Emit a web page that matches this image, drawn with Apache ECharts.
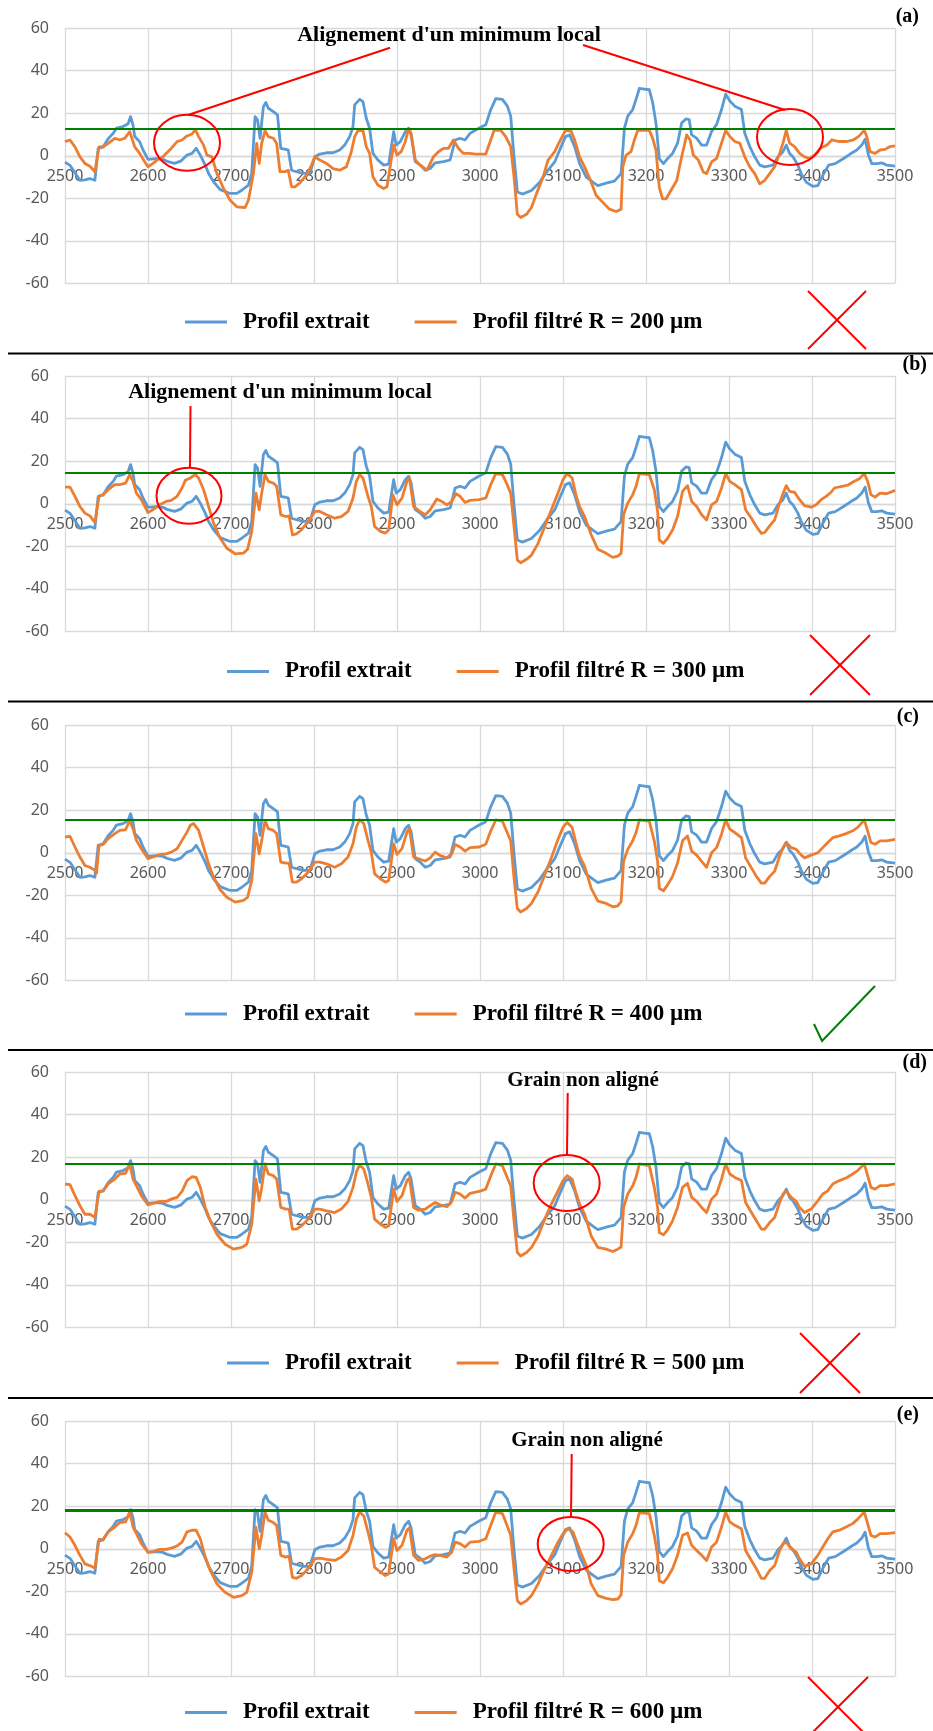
<!DOCTYPE html>
<html>
<head>
<meta charset="utf-8">
<script src="https://cdn.jsdelivr.net/npm/echarts@6/dist/echarts.min.js"></script>
<style>
html,body{margin:0;padding:0;background:#fff;}
#chart{width:933px;height:1731px;}
</style>
</head>
<body>
<div id="chart"></div>
<script>
// ---------- DATA ----------
const xTicks = [2500, 3500, 100];       // min, max, interval (µm)
const yTicks = [-60, 60, 20];
const panelLetters = ['(a)', '(b)', '(c)', '(d)', '(e)'];
const radii = [200, 300, 400, 500, 600];           // µm
const thresholds = [12.5, 14.5, 15.7, 16.8, 18];   // green line levels
const blueName = 'Profil extrait';

const profileBlue = [[2500,-3],[2506,-4.5],[2512,-8],[2518,-11.5],[2524,-11.3],[2530,-10.7],[2536,-11.5],[2538,-11],[2540,3.5],[2546,4.2],[2552,8],[2558,10.5],[2562,13],[2570,13.7],[2576,15],[2579,18.4],[2582,14.4],[2584,9],[2590,6.6],[2594,2.7],[2600,-1.7],[2610,-1.3],[2618,-1.7],[2624,-2.8],[2632,-3.6],[2640,-2.4],[2647,0.3],[2653,1.1],[2658,3.5],[2663,0.3],[2669,-4.4],[2673,-8.3],[2679,-12.2],[2687,-15.9],[2699,-17.7],[2707,-17.7],[2713,-16.2],[2721,-13.8],[2725,-8.3],[2729,18.4],[2732,16.8],[2735,8.2],[2739,23],[2742,25],[2745,22.3],[2751,20.7],[2756,19.2],[2760,3.5],[2766,3],[2769,2.7],[2773,-6.8],[2779,-7.5],[2787,-8.3],[2795,-8.3],[2801,-0.5],[2807,0.8],[2815,1.4],[2823,1.4],[2831,2.7],[2837,5],[2843,9],[2847,13.7],[2849,23.9],[2855,26.5],[2859,25.4],[2863,17.6],[2867,12.9],[2871,1.1],[2877,-2],[2884,-4.4],[2890,-3.9],[2896,11.3],[2899,5],[2904,6.6],[2910,11.3],[2914,12.9],[2917,9.7],[2922,-2.8],[2928,-4.4],[2934,-6.8],[2940,-6],[2946,-3.3],[2956,-2.8],[2964,-2],[2970,7.4],[2976,8.2],[2982,7.4],[2988,10.5],[2999,13],[3007,14.6],[3013,21.7],[3019,26.8],[3027,26.5],[3033,23.3],[3037,18.6],[3041,-0.5],[3045,-17],[3051,-18],[3062,-16.3],[3072,-12.4],[3082,-6.8],[3090,-2.9],[3096,2.7],[3103,9],[3108,9.8],[3114,4.3],[3120,-3.7],[3128,-10],[3136,-12.4],[3142,-14],[3152,-12.9],[3162,-11.9],[3170,-8.4],[3174,13],[3178,18.6],[3184,21.7],[3188,26.5],[3192,31.6],[3198,31.3],[3204,31],[3208,25],[3212,15.4],[3216,-1.3],[3221,-3.7],[3226,-1.3],[3232,1.1],[3238,5.9],[3243,15.4],[3248,17.3],[3252,17],[3255,9.8],[3261,8.3],[3267,5],[3273,5],[3279,11.4],[3285,14.6],[3291,21.7],[3296,28.9],[3301,25.7],[3307,23.3],[3315,21.7],[3319,10.6],[3325,4.3],[3331,-0.5],[3337,-4.4],[3343,-5.2],[3353,-4.4],[3359,-0.5],[3365,1.9],[3369,5],[3373,1.1],[3377,-0.5],[3383,-4.4],[3387,-8.4],[3393,-12.4],[3401,-14.4],[3407,-14],[3413,-9.2],[3420,-4.4],[3428,-3.7],[3438,-1.3],[3446,0.8],[3454,2.7],[3460,5],[3464,7.8],[3468,0.3],[3472,-3.7],[3478,-3.7],[3484,-3.3],[3490,-4.4],[3500,-4.9]];

const filtered200 = [[2500,6.6],[2506,7.4],[2512,4.2],[2518,-0.5],[2524,-3.6],[2530,-4.9],[2536,-7.5],[2538,-8.3],[2541,4.2],[2546,4.2],[2552,5.8],[2560,8.2],[2566,7.4],[2572,8.2],[2578,11.3],[2580,11.3],[2584,4.2],[2590,1.1],[2596,-2.8],[2600,-5.2],[2606,-3.6],[2612,-1.7],[2618,-0.5],[2627,3],[2635,6.6],[2641,7.4],[2647,9.3],[2653,10.2],[2657,12.3],[2661,9],[2667,5],[2671,0.3],[2677,-0.5],[2683,-8.3],[2691,-15.4],[2699,-20.9],[2707,-24],[2717,-24.3],[2721,-20.9],[2727,-8.3],[2731,5.8],[2734,-3.6],[2737,5.8],[2741,11.8],[2745,9],[2751,8.2],[2755,5.8],[2759,-7.5],[2765,-7.5],[2769,-6.8],[2773,-14.6],[2777,-14.6],[2783,-12.7],[2791,-9.1],[2797,-4.4],[2801,-0.5],[2807,-2],[2815,-3.6],[2823,-6],[2831,-6.8],[2839,-5.2],[2845,1.9],[2849,9],[2853,11.8],[2859,11.8],[2863,4.2],[2867,1.1],[2871,-9.9],[2877,-13.8],[2884,-15.4],[2888,-14.6],[2893,-2],[2896,5],[2900,0.3],[2905,1.9],[2910,6.6],[2914,12.9],[2917,10.5],[2922,-2],[2928,-4.4],[2936,-6.8],[2944,-0.5],[2950,1.9],[2956,3.5],[2962,3.5],[2968,7.4],[2974,3.5],[2980,1.1],[2987,1.1],[2995,0.8],[3007,0.8],[3013,7.5],[3017,11.9],[3025,11.9],[3031,9],[3037,4.3],[3041,-10],[3045,-27.5],[3049,-29],[3056,-27.5],[3062,-24.3],[3068,-17.9],[3076,-10],[3082,-2],[3090,1.9],[3096,6.7],[3103,11.9],[3110,11.4],[3114,7.5],[3120,-0.5],[3126,-5.2],[3134,-12.4],[3140,-18.7],[3148,-21.9],[3156,-25.1],[3164,-26.2],[3170,-25.1],[3172,-5.2],[3176,0.3],[3182,1.9],[3186,7.5],[3190,11.9],[3204,11.9],[3208,8.3],[3212,2.7],[3216,-14.8],[3220,-20.3],[3224,-20.3],[3230,-16.3],[3237,-11.6],[3243,-0.5],[3249,9.8],[3253,7.5],[3257,0.3],[3263,-2],[3269,-7.6],[3273,-8.4],[3279,-2.9],[3285,-1.3],[3291,5.9],[3296,11.9],[3301,9],[3307,6.7],[3313,5.9],[3319,-0.5],[3325,-5.2],[3331,-8.4],[3337,-13.2],[3343,-11.6],[3349,-8.4],[3355,-5.2],[3361,1.1],[3365,5.9],[3369,11.9],[3373,5.9],[3379,4.3],[3385,1.1],[3391,-0.5],[3397,-1.3],[3403,0.3],[3410,3.5],[3418,5],[3424,7.5],[3432,6.7],[3442,6.7],[3450,7.5],[3456,9],[3463,11.9],[3466,9],[3470,1.9],[3476,1.1],[3482,2.7],[3488,3],[3494,4.3],[3500,4.6]];

const filtered300 = [[2500,7.8],[2506,7.8],[2512,3.5],[2518,-1.3],[2524,-4.4],[2530,-5.7],[2536,-8.8],[2538,-9.1],[2541,3.5],[2546,4.2],[2552,6.6],[2560,9],[2566,9],[2573,9.7],[2578,13.7],[2582,10.5],[2586,5],[2592,1.9],[2600,-4.1],[2606,-2.8],[2614,-0.5],[2622,1.1],[2628,1.6],[2635,3.5],[2641,7.4],[2645,11],[2651,12.1],[2657,13.7],[2661,12.1],[2667,6.6],[2673,-1.3],[2679,-9.1],[2687,-16.2],[2695,-20.9],[2705,-23.5],[2715,-23.2],[2720,-21.4],[2725,-13],[2730,5],[2734,-2.8],[2737,5],[2741,13.7],[2745,10.5],[2751,9.7],[2755,8.2],[2760,-5.2],[2766,-6],[2770,-5.7],[2774,-14.6],[2779,-14.1],[2785,-12.2],[2793,-8.3],[2801,-3.6],[2807,-3.6],[2815,-5.2],[2825,-6.8],[2833,-6],[2841,-3.6],[2847,2.7],[2851,10.5],[2855,13.7],[2859,12.1],[2865,3.5],[2869,-1.3],[2873,-10.7],[2880,-13],[2886,-13.8],[2890,-12.2],[2895,4.2],[2900,-0.5],[2906,2.7],[2912,10.5],[2915,12.1],[2920,-1.3],[2926,-3.1],[2934,-5.2],[2940,-2.8],[2948,2.2],[2954,1.1],[2960,-0.5],[2966,1.1],[2971,4.7],[2976,3.5],[2982,0.6],[2988,1.6],[2999,1.9],[3007,2.7],[3013,9],[3019,14.2],[3027,13.7],[3031,10.5],[3037,5],[3041,-10.7],[3045,-26.5],[3049,-27.7],[3056,-26.1],[3062,-24.1],[3070,-18.6],[3078,-10.7],[3086,-2.8],[3094,5],[3100,11.3],[3105,14.2],[3111,12.1],[3116,3.5],[3120,-1.3],[3126,-6],[3134,-14.6],[3142,-21.4],[3152,-23.3],[3160,-25.2],[3166,-24.6],[3170,-23.3],[3173,-5.2],[3178,0.3],[3184,4.3],[3188,8.2],[3192,14.2],[3204,13.7],[3210,6.6],[3214,-3.6],[3216,-17],[3221,-18.6],[3226,-16.2],[3232,-12.3],[3238,-6],[3244,5.8],[3250,8.5],[3255,1.1],[3261,-1.3],[3267,-5.2],[3273,-7.6],[3279,-0.5],[3285,1.1],[3291,7.4],[3296,14.2],[3301,10.5],[3307,9],[3315,6.6],[3320,-2.8],[3327,-6.8],[3333,-10.7],[3339,-13.9],[3343,-13.5],[3349,-10.4],[3355,-7.6],[3361,0.3],[3365,4.7],[3369,8.5],[3373,5.8],[3379,5.4],[3385,1.9],[3391,-0.9],[3399,-1.6],[3405,-0.5],[3411,1.9],[3417,3.5],[3423,5.4],[3427,7.4],[3435,8.1],[3443,8.7],[3451,10.6],[3457,11.7],[3463,14.2],[3467,10.6],[3471,4.3],[3476,3.1],[3482,5],[3490,4.7],[3500,6.3]];

const filtered400 = [[2500,7.4],[2506,7.7],[2512,2.7],[2518,-2],[2524,-6],[2530,-6.8],[2536,-8.3],[2538,-9.6],[2541,3.5],[2546,3.9],[2552,6.6],[2560,9],[2566,10.5],[2573,10.8],[2578,15.2],[2582,11.3],[2586,5.8],[2592,1.9],[2600,-2.8],[2606,-2],[2614,-0.8],[2622,-0.5],[2628,0.3],[2635,1.9],[2641,5.8],[2647,9.7],[2651,12.9],[2655,13.7],[2661,10.5],[2667,2.7],[2673,-5.2],[2679,-11.5],[2687,-17.4],[2695,-20.9],[2705,-23.2],[2715,-22.4],[2720,-20.9],[2725,-13],[2730,9],[2734,-0.5],[2737,5.8],[2741,15.2],[2745,11.3],[2751,10.5],[2755,9],[2760,-4.4],[2766,-4.9],[2770,-4.9],[2774,-13.8],[2779,-13.8],[2785,-12.2],[2793,-9.1],[2801,-4.4],[2807,-4.4],[2815,-5.2],[2825,-6.8],[2833,-5.2],[2841,-2],[2847,4.2],[2851,12.1],[2855,15.5],[2860,13.7],[2865,5.8],[2869,0.3],[2873,-9.9],[2880,-12.2],[2886,-13.8],[2890,-13],[2896,4.2],[2900,-0.8],[2906,1.9],[2912,9.7],[2915,11.3],[2920,-2],[2926,-2.8],[2934,-3.9],[2940,-2.4],[2946,0.3],[2952,-1.3],[2960,-2.4],[2966,-0.5],[2970,3.9],[2976,2.7],[2982,0.8],[2988,2.4],[2999,2.7],[3007,4],[3013,10.3],[3019,15.4],[3027,14.8],[3031,11.1],[3037,5.6],[3041,-11.9],[3045,-26.2],[3049,-27.8],[3056,-26.2],[3062,-23.8],[3070,-18.3],[3078,-10.3],[3086,-2.4],[3094,6.3],[3100,11.9],[3105,14.3],[3111,11.9],[3116,4],[3120,-1.6],[3126,-6.3],[3134,-16.7],[3142,-22.7],[3152,-23.8],[3160,-25.4],[3166,-24.9],[3170,-23],[3173,-4],[3178,1.6],[3184,5.6],[3188,9.5],[3192,15.4],[3204,14.8],[3210,5.6],[3214,-4],[3216,-16.7],[3221,-17.9],[3226,-15.1],[3232,-11.1],[3238,-4.8],[3244,5.6],[3250,7.9],[3255,0.8],[3261,-1.1],[3267,-4],[3273,-6.8],[3279,0],[3285,2.4],[3291,8.7],[3296,15.4],[3301,11.1],[3307,9.5],[3315,7.1],[3320,-2.4],[3327,-7.1],[3333,-11.1],[3339,-14.3],[3343,-14.3],[3349,-11.1],[3355,-8.7],[3361,-1.6],[3365,2.4],[3369,4.8],[3375,2.4],[3381,1.6],[3387,-1.1],[3391,-2.4],[3399,-1.1],[3407,0],[3413,2.4],[3419,4.8],[3425,7.1],[3433,7.9],[3441,9],[3449,10.3],[3455,11.9],[3463,15.4],[3467,10.3],[3471,4.8],[3476,4],[3482,5.6],[3490,5.6],[3500,6.3]];

const filtered500 = [[2500,7.4],[2506,7.1],[2512,1.9],[2518,-2.8],[2524,-6.8],[2530,-6.8],[2536,-8.3],[2538,-9.1],[2541,3.9],[2546,4.2],[2552,7.4],[2560,9.7],[2566,12.1],[2573,12.4],[2578,16.8],[2582,9.7],[2586,6.6],[2592,1.9],[2600,-2.4],[2606,-1.7],[2614,-0.8],[2622,-0.8],[2628,0.3],[2635,1.1],[2641,3.9],[2647,9],[2653,10.8],[2658,10.5],[2663,5.8],[2669,-3.6],[2675,-9.9],[2683,-16.2],[2693,-20.9],[2703,-23.2],[2713,-22.4],[2719,-20.9],[2725,-11.5],[2730,9.7],[2734,-0.5],[2737,5.8],[2741,16.8],[2745,12.1],[2751,11.3],[2755,9.7],[2760,-3.6],[2766,-4.4],[2770,-4.4],[2774,-13.8],[2779,-13.8],[2785,-12.2],[2793,-9.1],[2801,-4.4],[2807,-4.4],[2815,-5.2],[2825,-6],[2833,-4.4],[2841,-0.8],[2847,5.8],[2851,12.9],[2855,16.5],[2860,14.4],[2865,7.4],[2869,1.1],[2873,-9.1],[2880,-11.5],[2886,-13],[2890,-12.2],[2896,5],[2900,-0.8],[2906,1.9],[2912,9],[2915,10.2],[2920,-3.6],[2926,-4.9],[2934,-4.4],[2940,-2.8],[2946,-1.3],[2952,-2.4],[2960,-3.3],[2966,-0.8],[2970,3.5],[2976,2.7],[2982,0.8],[2988,3],[2999,3.9],[3007,5],[3013,11.3],[3019,16.8],[3027,16],[3031,12.1],[3037,6.6],[3041,-9.9],[3045,-24.8],[3049,-26.4],[3056,-24.8],[3062,-22.4],[3070,-17],[3078,-9.1],[3086,-2],[3094,4.2],[3100,9],[3105,11.3],[3111,9.7],[3116,2.7],[3120,-2],[3126,-6.8],[3134,-17],[3142,-22.4],[3152,-23.2],[3160,-24.3],[3166,-23.2],[3170,-22.2],[3173,-3.6],[3178,2.7],[3184,6.6],[3188,10.5],[3192,16.8],[3204,16],[3210,5.8],[3214,-3.6],[3216,-15.4],[3221,-16.5],[3226,-14.1],[3232,-9.9],[3238,-3.6],[3244,5.8],[3250,7.7],[3255,1.1],[3261,-0.8],[3267,-3.6],[3273,-6],[3279,0.3],[3285,2.7],[3291,9.7],[3296,16.8],[3301,12.1],[3307,10.5],[3315,9],[3320,-1.3],[3327,-6],[3333,-9.9],[3339,-13.8],[3343,-13.8],[3349,-10.7],[3355,-8.3],[3361,-1.3],[3365,2.7],[3369,4.2],[3375,1.1],[3381,-0.8],[3385,-3.6],[3391,-6],[3399,-4.4],[3407,-0.5],[3413,2.7],[3419,4.2],[3425,7.4],[3433,9],[3441,10.2],[3449,12.1],[3455,13.7],[3463,16.8],[3467,11.3],[3471,5.8],[3476,5],[3482,6.6],[3490,6.6],[3500,7.4]];

const filtered600 = [[2500,7.5],[2506,5.5],[2512,1.6],[2518,-3.1],[2524,-7.1],[2530,-7.9],[2536,-9.1],[2538,-9.4],[2541,4.4],[2546,4.4],[2552,7.9],[2560,10.2],[2566,12.3],[2573,12.6],[2578,17.3],[2582,10.2],[2586,7.1],[2592,2.4],[2600,-1.6],[2606,-1.3],[2614,-0.3],[2622,-0.3],[2628,0.3],[2635,1.3],[2641,3.1],[2647,7.9],[2653,8.7],[2658,8.7],[2663,4.7],[2669,-3.9],[2675,-10.2],[2683,-16.5],[2693,-20.5],[2703,-22.8],[2713,-22],[2719,-20.5],[2725,-11],[2730,10.2],[2734,0],[2737,6.3],[2741,17.3],[2745,13.4],[2751,12.3],[2755,11],[2760,-3.1],[2766,-3.9],[2770,-3.5],[2774,-13.4],[2779,-13.9],[2785,-12.6],[2793,-9.4],[2801,-4.7],[2807,-4.4],[2815,-5],[2825,-5.5],[2833,-3.9],[2841,-0.8],[2847,6.3],[2851,13.9],[2855,17.3],[2860,15.4],[2865,7.9],[2869,1.6],[2873,-8.7],[2880,-11],[2886,-12.6],[2890,-11.8],[2896,4.7],[2900,-0.8],[2906,1.6],[2912,8.7],[2915,9.8],[2920,-3.1],[2926,-5.5],[2934,-4.7],[2940,-3.5],[2946,-2.8],[2952,-3.1],[2960,-3.9],[2966,-1.6],[2970,3.1],[2976,2.4],[2982,0.8],[2988,3.1],[2999,3.5],[3007,4.7],[3013,11],[3019,17.3],[3027,16.5],[3031,12.6],[3037,6.3],[3041,-9.4],[3045,-24.4],[3049,-26],[3056,-24.4],[3062,-22],[3070,-16.5],[3078,-9.4],[3086,-3.1],[3094,3.1],[3100,7.1],[3106,9.4],[3112,7.9],[3118,1.6],[3122,-2.4],[3128,-7.9],[3134,-16.5],[3142,-22],[3152,-23.3],[3160,-23.9],[3166,-23.6],[3170,-21.7],[3173,-3.1],[3178,3.1],[3184,7.1],[3188,11],[3192,17],[3204,16.5],[3210,6.3],[3214,-3.1],[3216,-15],[3221,-16],[3226,-13.4],[3232,-9.4],[3238,-3.1],[3244,6.3],[3250,7.4],[3255,1.6],[3261,-0.8],[3267,-3.1],[3273,-5.5],[3279,0.8],[3285,3.1],[3291,10.2],[3296,17.3],[3301,12.6],[3307,11],[3315,9.4],[3320,-0.8],[3327,-5.5],[3333,-9.4],[3339,-13.9],[3343,-13.9],[3349,-10.2],[3355,-7.9],[3361,-0.8],[3365,2.4],[3369,3.1],[3375,0],[3381,-1.6],[3385,-4.7],[3391,-8.2],[3399,-7.1],[3407,-3.1],[3413,0.8],[3419,4.7],[3425,7.9],[3433,8.7],[3441,10.2],[3449,11.8],[3455,13.9],[3463,17.3],[3467,11.8],[3471,6.3],[3476,5.5],[3482,7.1],[3490,7.1],[3500,7.6]];

const filteredProfiles = [filtered200, filtered300, filtered400, filtered500, filtered600];

// ---------- LAYOUT / STYLE ----------
const BLUE = '#5b9bd5', ORANGE = '#ed7d31', GREEN = '#008000', RED = '#ff0000';
const gridTops = [28, 376, 725, 1072, 1421];
const gridH = 255.5, gridLeft = 65, gridW = 830;
const legendCenters = [319, 668.5, 1011, 1360, 1709.5];
const legendLefts = [180, 222, 180, 222, 180];
const greenW = [2, 2, 2, 2, 3];
const serif = '"Liberation Serif", "DejaVu Serif", serif';

const grids = [], xAxes = [], yAxes = [], series = [], legends = [];
const axisLabelStyle = {color: '#595959', fontSize: 16, fontFamily: '"Noto Sans", sans-serif'};
const gridLineStyle = {color: '#d9d9d9', width: 1.3};
// x axis sits on the y = 0 line (Excel style)
const zeroOffset = -gridH * (0 - yTicks[0]) / (yTicks[1] - yTicks[0]);

for (let i = 0; i < 5; i++) {
  grids.push({left: gridLeft, top: gridTops[i], width: gridW, height: gridH});
  xAxes.push({
    type: 'value', gridIndex: i, min: xTicks[0], max: xTicks[1], interval: xTicks[2],
    position: 'bottom', offset: zeroOffset,
    axisLine: {show: true, onZero: false, lineStyle: gridLineStyle},
    axisTick: {show: false},
    axisLabel: Object.assign({margin: 13, formatter: v => String(v)}, axisLabelStyle),
    splitLine: {show: true, lineStyle: gridLineStyle}
  });
  yAxes.push({
    type: 'value', gridIndex: i, min: yTicks[0], max: yTicks[1], interval: yTicks[2],
    axisLine: {show: false}, axisTick: {show: false},
    axisLabel: Object.assign({margin: 16, formatter: v => String(v)}, axisLabelStyle),
    splitLine: {show: true, lineStyle: gridLineStyle}
  });
  const orangeName = 'Profil filtré R = ' + radii[i] + ' µm';
  series.push({
    name: blueName, type: 'line', xAxisIndex: i, yAxisIndex: i,
    data: profileBlue, showSymbol: false, symbol: 'none',
    lineStyle: {color: BLUE, width: 2.8, join: 'round'}, itemStyle: {color: BLUE},
    z: 2, animation: false
  });
  series.push({
    name: orangeName, type: 'line', xAxisIndex: i, yAxisIndex: i,
    data: filteredProfiles[i], showSymbol: false, symbol: 'none',
    lineStyle: {color: ORANGE, width: 2.8, join: 'round'}, itemStyle: {color: ORANGE},
    z: 3, animation: false,
    markLine: {
      silent: true, symbol: ['none', 'none'], label: {show: false},
      lineStyle: {color: GREEN, width: greenW[i], type: 'solid'},
      data: [{yAxis: thresholds[i]}], z: 5, animation: false
    }
  });
  legends.push({
    data: [blueName, orangeName],
    left: legendLefts[i], top: legendCenters[i] - 13.5,
    icon: 'rect', itemWidth: 42, itemHeight: 3, itemGap: 45,
    textStyle: {fontFamily: serif, fontWeight: 'bold', fontSize: 23, color: '#000', padding: [0, 0, 0, 11]},
    selectedMode: false
  });
}

// ---------- ANNOTATIONS (overlay drawings) ----------
const g = [];
function line(x1, y1, x2, y2, color, w) {
  g.push({type: 'line', shape: {x1, y1, x2, y2}, style: {stroke: color, lineWidth: w || 2}, z: 100, silent: true});
}
function ell(cx, cy, rx, ry) {
  g.push({type: 'ellipse', shape: {cx, cy, rx, ry}, style: {stroke: RED, lineWidth: 2, fill: 'none'}, z: 100, silent: true});
}
function txt(x, y, s, align, size) {
  g.push({type: 'text', x, y, style: {text: s, fontFamily: serif, fontWeight: 'bold', fontSize: size || 21, fill: '#000', align: align || 'center', verticalAlign: 'middle'}, z: 101, silent: true});
}
function cross(cx, cy, h) {
  line(cx - h, cy - h, cx + h, cy + h, RED, 2);
  line(cx + h, cy - h, cx - h, cy + h, RED, 2);
}
// separators
[353.5, 701.5, 1050, 1398].forEach(y => line(8, y, 933, y, '#000', 2.2));
// panel letters
txt(919, 17, panelLetters[0], 'right', 20);
txt(927, 365, panelLetters[1], 'right', 20);
txt(919, 717, panelLetters[2], 'right', 20);
txt(927, 1063, panelLetters[3], 'right', 20);
txt(919, 1415, panelLetters[4], 'right', 20);
// (a)
txt(449, 35, "Alignement d'un minimum local", 'center', 22);
line(390, 47.7, 188, 115, RED, 2);
line(583, 45, 785, 110, RED, 2);
ell(187, 142.7, 33, 28);
ell(790, 137, 33, 28);
cross(837, 320, 29);
// (b)
txt(280, 392.7, "Alignement d'un minimum local", 'center', 22);
line(190.5, 406, 190, 467, RED, 2);
ell(189, 495.7, 32.5, 28);
cross(840, 665, 30);
// (c) check mark
g.push({type: 'polyline', shape: {points: [[814, 1024], [822, 1041], [875, 986]]}, style: {stroke: GREEN, lineWidth: 2, fill: 'none'}, z: 100, silent: true});
// (d)
txt(583, 1080.7, 'Grain non aligné');
line(567.7, 1093, 567, 1155, RED, 2);
ell(566.7, 1183, 33, 28);
cross(830, 1363, 30);
// (e)
txt(587, 1441, 'Grain non aligné');
line(571.7, 1454, 571, 1517, RED, 2);
ell(570.7, 1544, 33, 27);
cross(838, 1707, 30);

const chart = echarts.init(document.getElementById('chart'), null, {renderer: 'canvas'});
chart.setOption({
  animation: false,
  backgroundColor: '#ffffff',
  grid: grids, xAxis: xAxes, yAxis: yAxes, series: series, legend: legends,
  graphic: g
});
</script>
</body>
</html>
